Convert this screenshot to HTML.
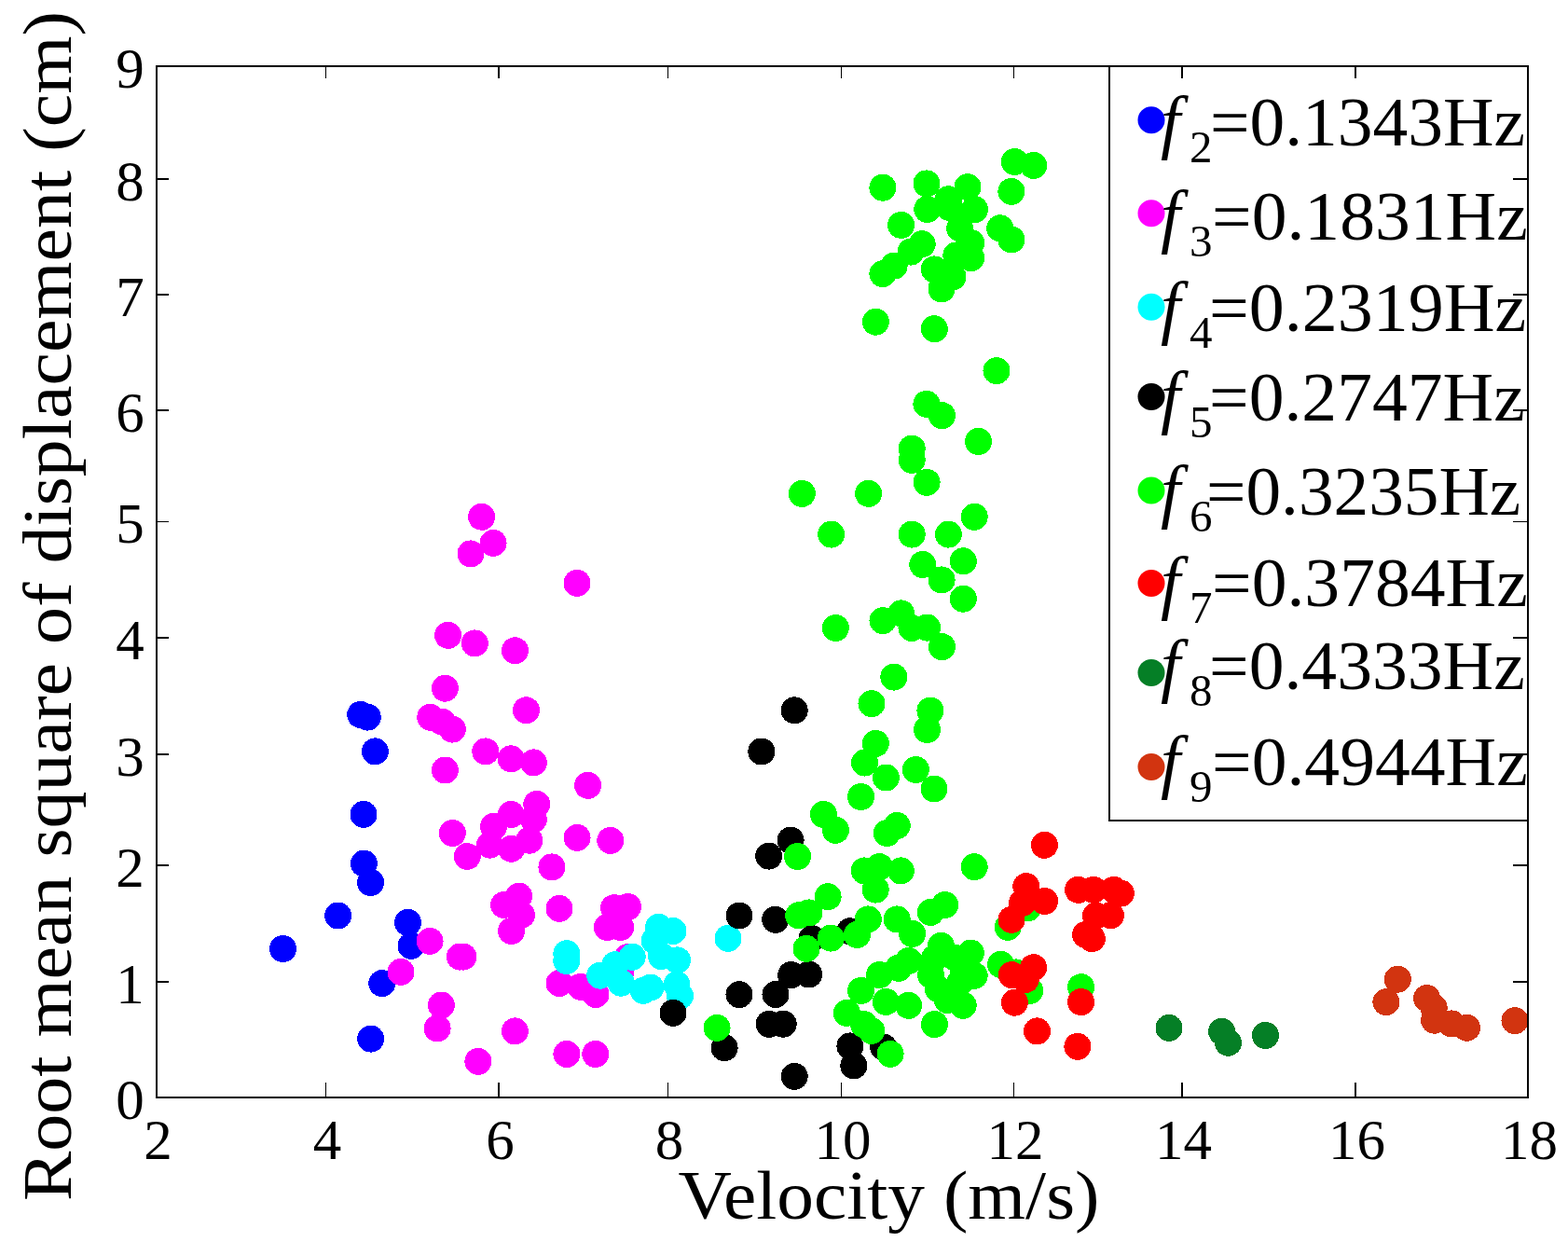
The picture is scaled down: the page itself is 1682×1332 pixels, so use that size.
<!DOCTYPE html><html><head><meta charset="utf-8"><title>Scatter plot</title><style>html,body{margin:0;padding:0;background:#fff;}svg{display:block;}</style></head><body>
<svg width="1682" height="1332" viewBox="0 0 1682 1332">
<rect width="1682" height="1332" fill="#fff"/>
<g fill="#0000ff" shape-rendering="crispEdges">
<circle cx="437.5" cy="989.3" r="14.5"/>
<circle cx="441.0" cy="1014.4" r="14.5"/>
<circle cx="409.8" cy="1054.6" r="14.5"/>
<circle cx="397.7" cy="1114.1" r="14.5"/>
<circle cx="386.7" cy="766.4" r="14.5"/>
<circle cx="394.3" cy="769.1" r="14.5"/>
<circle cx="402.4" cy="805.9" r="14.5"/>
<circle cx="390.0" cy="873.4" r="14.5"/>
<circle cx="390.4" cy="926.1" r="14.5"/>
<circle cx="397.6" cy="946.5" r="14.5"/>
<circle cx="362.6" cy="982.0" r="14.5"/>
<circle cx="303.5" cy="1017.5" r="14.5"/>
</g>
<g fill="#ff00ff" shape-rendering="crispEdges">
<circle cx="600.0" cy="974.4" r="14.5"/>
<circle cx="658.6" cy="973.7" r="14.5"/>
<circle cx="673.4" cy="972.5" r="14.5"/>
<circle cx="651.2" cy="994.5" r="14.5"/>
<circle cx="665.7" cy="994.5" r="14.5"/>
<circle cx="600.1" cy="1054.5" r="14.5"/>
<circle cx="622.9" cy="1058.3" r="14.5"/>
<circle cx="639.0" cy="1066.5" r="14.5"/>
<circle cx="673.4" cy="1026.6" r="14.5"/>
<circle cx="665.5" cy="1043.2" r="14.5"/>
<circle cx="461.1" cy="1009.4" r="14.5"/>
<circle cx="493.4" cy="1026.1" r="14.5"/>
<circle cx="496.8" cy="1026.1" r="14.5"/>
<circle cx="430.0" cy="1042.4" r="14.5"/>
<circle cx="473.4" cy="1078.0" r="14.5"/>
<circle cx="469.1" cy="1102.9" r="14.5"/>
<circle cx="552.4" cy="1105.9" r="14.5"/>
<circle cx="512.9" cy="1138.4" r="14.5"/>
<circle cx="548.6" cy="998.4" r="14.5"/>
<circle cx="540.7" cy="970.5" r="14.5"/>
<circle cx="480.6" cy="681.3" r="14.5"/>
<circle cx="509.3" cy="689.9" r="14.5"/>
<circle cx="552.5" cy="697.8" r="14.5"/>
<circle cx="477.4" cy="738.2" r="14.5"/>
<circle cx="564.5" cy="761.8" r="14.5"/>
<circle cx="461.7" cy="769.3" r="14.5"/>
<circle cx="474.4" cy="774.2" r="14.5"/>
<circle cx="485.3" cy="782.1" r="14.5"/>
<circle cx="520.8" cy="805.9" r="14.5"/>
<circle cx="548.2" cy="813.8" r="14.5"/>
<circle cx="572.4" cy="817.9" r="14.5"/>
<circle cx="477.4" cy="826.0" r="14.5"/>
<circle cx="630.6" cy="842.3" r="14.5"/>
<circle cx="575.8" cy="862.4" r="14.5"/>
<circle cx="548.2" cy="873.5" r="14.5"/>
<circle cx="572.3" cy="878.6" r="14.5"/>
<circle cx="529.5" cy="886.4" r="14.5"/>
<circle cx="485.3" cy="893.5" r="14.5"/>
<circle cx="525.5" cy="906.1" r="14.5"/>
<circle cx="548.5" cy="910.2" r="14.5"/>
<circle cx="567.8" cy="901.2" r="14.5"/>
<circle cx="501.2" cy="918.5" r="14.5"/>
<circle cx="619.1" cy="898.4" r="14.5"/>
<circle cx="654.8" cy="901.4" r="14.5"/>
<circle cx="591.9" cy="929.9" r="14.5"/>
<circle cx="556.7" cy="961.1" r="14.5"/>
<circle cx="516.6" cy="554.3" r="14.5"/>
<circle cx="529.1" cy="582.4" r="14.5"/>
<circle cx="505.0" cy="593.9" r="14.5"/>
<circle cx="619.0" cy="625.3" r="14.5"/>
<circle cx="607.9" cy="1130.5" r="14.5"/>
<circle cx="638.8" cy="1130.5" r="14.5"/>
<circle cx="559.5" cy="981.2" r="14.5"/>
</g>
<g fill="#00ffff" shape-rendering="crispEdges">
<circle cx="781.0" cy="1006.3" r="14.5"/>
<circle cx="706.5" cy="994.3" r="14.5"/>
<circle cx="722.0" cy="998.5" r="14.5"/>
<circle cx="726.5" cy="1029.8" r="14.5"/>
<circle cx="709.5" cy="1025.6" r="14.5"/>
<circle cx="726.0" cy="1056.1" r="14.5"/>
<circle cx="729.5" cy="1068.1" r="14.5"/>
<circle cx="697.8" cy="1059.1" r="14.5"/>
<circle cx="607.8" cy="1022.7" r="14.5"/>
<circle cx="607.8" cy="1030.5" r="14.5"/>
<circle cx="643.7" cy="1046.2" r="14.5"/>
<circle cx="659.8" cy="1034.7" r="14.5"/>
<circle cx="678.2" cy="1026.3" r="14.5"/>
<circle cx="666.3" cy="1054.2" r="14.5"/>
<circle cx="690.1" cy="1062.3" r="14.5"/>
<circle cx="702.2" cy="1008.8" r="14.5"/>
</g>
<g fill="#000000" shape-rendering="crispEdges">
<circle cx="871.0" cy="1006.6" r="14.5"/>
<circle cx="911.6" cy="998.8" r="14.5"/>
<circle cx="867.7" cy="1045.0" r="14.5"/>
<circle cx="911.9" cy="1121.9" r="14.5"/>
<circle cx="915.8" cy="1142.9" r="14.5"/>
<circle cx="947.6" cy="1122.9" r="14.5"/>
<circle cx="852.2" cy="761.8" r="14.5"/>
<circle cx="816.8" cy="806.0" r="14.5"/>
<circle cx="848.1" cy="901.2" r="14.5"/>
<circle cx="824.7" cy="918.1" r="14.5"/>
<circle cx="793.0" cy="982.0" r="14.5"/>
<circle cx="831.7" cy="986.3" r="14.5"/>
<circle cx="848.7" cy="1045.6" r="14.5"/>
<circle cx="793.0" cy="1066.6" r="14.5"/>
<circle cx="832.0" cy="1066.5" r="14.5"/>
<circle cx="825.1" cy="1098.3" r="14.5"/>
<circle cx="840.2" cy="1098.2" r="14.5"/>
<circle cx="722.0" cy="1086.3" r="14.5"/>
<circle cx="777.1" cy="1123.7" r="14.5"/>
<circle cx="852.2" cy="1154.4" r="14.5"/>
</g>
<g fill="#00ff00" shape-rendering="crispEdges">
<circle cx="946.9" cy="201.2" r="14.5"/>
<circle cx="994.0" cy="196.9" r="14.5"/>
<circle cx="1038.0" cy="200.7" r="14.5"/>
<circle cx="1088.3" cy="173.5" r="14.5"/>
<circle cx="1108.7" cy="177.4" r="14.5"/>
<circle cx="1084.9" cy="205.4" r="14.5"/>
<circle cx="1017.3" cy="213.8" r="14.5"/>
<circle cx="994.8" cy="224.5" r="14.5"/>
<circle cx="1045.5" cy="224.7" r="14.5"/>
<circle cx="966.6" cy="241.4" r="14.5"/>
<circle cx="1072.7" cy="244.8" r="14.5"/>
<circle cx="1084.9" cy="257.0" r="14.5"/>
<circle cx="1029.5" cy="244.8" r="14.5"/>
<circle cx="989.2" cy="261.7" r="14.5"/>
<circle cx="977.0" cy="270.1" r="14.5"/>
<circle cx="959.1" cy="285.1" r="14.5"/>
<circle cx="946.9" cy="293.6" r="14.5"/>
<circle cx="1041.7" cy="260.7" r="14.5"/>
<circle cx="1041.7" cy="276.7" r="14.5"/>
<circle cx="1025.8" cy="273.9" r="14.5"/>
<circle cx="1002.3" cy="288.9" r="14.5"/>
<circle cx="1022.0" cy="296.8" r="14.5"/>
<circle cx="1010.0" cy="309.9" r="14.5"/>
<circle cx="939.4" cy="345.2" r="14.5"/>
<circle cx="1002.3" cy="352.7" r="14.5"/>
<circle cx="1069.0" cy="397.6" r="14.5"/>
<circle cx="993.9" cy="433.3" r="14.5"/>
<circle cx="1010.4" cy="445.6" r="14.5"/>
<circle cx="1049.5" cy="473.4" r="14.5"/>
<circle cx="978.2" cy="481.1" r="14.5"/>
<circle cx="978.2" cy="493.3" r="14.5"/>
<circle cx="994.1" cy="517.3" r="14.5"/>
<circle cx="931.6" cy="529.3" r="14.5"/>
<circle cx="1045.2" cy="554.3" r="14.5"/>
<circle cx="891.6" cy="573.1" r="14.5"/>
<circle cx="978.2" cy="573.1" r="14.5"/>
<circle cx="1017.4" cy="573.1" r="14.5"/>
<circle cx="1033.3" cy="601.8" r="14.5"/>
<circle cx="989.8" cy="605.5" r="14.5"/>
<circle cx="1010.1" cy="621.9" r="14.5"/>
<circle cx="1033.3" cy="642.2" r="14.5"/>
<circle cx="896.3" cy="673.5" r="14.5"/>
<circle cx="947.0" cy="665.6" r="14.5"/>
<circle cx="966.7" cy="657.9" r="14.5"/>
<circle cx="978.0" cy="673.5" r="14.5"/>
<circle cx="994.5" cy="673.1" r="14.5"/>
<circle cx="1010.4" cy="693.6" r="14.5"/>
<circle cx="958.8" cy="726.1" r="14.5"/>
<circle cx="935.0" cy="754.6" r="14.5"/>
<circle cx="997.9" cy="762.1" r="14.5"/>
<circle cx="994.5" cy="782.4" r="14.5"/>
<circle cx="939.3" cy="797.4" r="14.5"/>
<circle cx="927.5" cy="818.0" r="14.5"/>
<circle cx="950.4" cy="834.0" r="14.5"/>
<circle cx="982.3" cy="825.5" r="14.5"/>
<circle cx="1002.0" cy="846.0" r="14.5"/>
<circle cx="923.6" cy="854.5" r="14.5"/>
<circle cx="883.4" cy="873.4" r="14.5"/>
<circle cx="896.4" cy="890.3" r="14.5"/>
<circle cx="962.2" cy="885.5" r="14.5"/>
<circle cx="951.4" cy="893.5" r="14.5"/>
<circle cx="855.6" cy="918.5" r="14.5"/>
<circle cx="1045.2" cy="929.7" r="14.5"/>
<circle cx="927.3" cy="933.9" r="14.5"/>
<circle cx="943.3" cy="929.6" r="14.5"/>
<circle cx="966.4" cy="933.9" r="14.5"/>
<circle cx="939.2" cy="954.1" r="14.5"/>
<circle cx="888.1" cy="961.7" r="14.5"/>
<circle cx="867.8" cy="978.9" r="14.5"/>
<circle cx="1013.7" cy="970.5" r="14.5"/>
<circle cx="998.3" cy="978.4" r="14.5"/>
<circle cx="931.3" cy="985.9" r="14.5"/>
<circle cx="962.2" cy="985.9" r="14.5"/>
<circle cx="978.6" cy="1001.4" r="14.5"/>
<circle cx="919.4" cy="1002.4" r="14.5"/>
<circle cx="891.3" cy="1006.1" r="14.5"/>
<circle cx="865.0" cy="1017.4" r="14.5"/>
<circle cx="1009.5" cy="1014.2" r="14.5"/>
<circle cx="1041.4" cy="1022.1" r="14.5"/>
<circle cx="1081.2" cy="994.3" r="14.5"/>
<circle cx="943.4" cy="1045.6" r="14.5"/>
<circle cx="923.6" cy="1062.4" r="14.5"/>
<circle cx="950.3" cy="1074.4" r="14.5"/>
<circle cx="974.6" cy="1078.3" r="14.5"/>
<circle cx="908.3" cy="1086.3" r="14.5"/>
<circle cx="926.6" cy="1098.6" r="14.5"/>
<circle cx="934.8" cy="1105.4" r="14.5"/>
<circle cx="955.1" cy="1130.3" r="14.5"/>
<circle cx="1002.4" cy="1098.6" r="14.5"/>
<circle cx="1033.2" cy="1078.3" r="14.5"/>
<circle cx="1002.6" cy="1027.6" r="14.5"/>
<circle cx="998.6" cy="1045.6" r="14.5"/>
<circle cx="1045.2" cy="1046.4" r="14.5"/>
<circle cx="1006.5" cy="1060.8" r="14.5"/>
<circle cx="1016.3" cy="1072.6" r="14.5"/>
<circle cx="1029.8" cy="1053.5" r="14.5"/>
<circle cx="1073.5" cy="1034.3" r="14.5"/>
<circle cx="1102.6" cy="973.8" r="14.5"/>
<circle cx="1089.8" cy="1042.9" r="14.5"/>
<circle cx="1104.8" cy="1062.4" r="14.5"/>
<circle cx="1159.6" cy="1058.7" r="14.5"/>
<circle cx="769.1" cy="1102.4" r="14.5"/>
<circle cx="856.7" cy="981.8" r="14.5"/>
<circle cx="860.3" cy="529.4" r="14.5"/>
<circle cx="963.8" cy="1038.3" r="14.5"/>
<circle cx="974.8" cy="1030.4" r="14.5"/>
<circle cx="1018.8" cy="222.6" r="14.5"/>
<circle cx="1024.8" cy="1027.3" r="14.5"/>
<circle cx="1033.0" cy="1046.0" r="14.5"/>
</g>
<g fill="#ff0000" shape-rendering="crispEdges">
<circle cx="1120.4" cy="906.3" r="14.5"/>
<circle cx="1100.8" cy="950.6" r="14.5"/>
<circle cx="1120.6" cy="966.5" r="14.5"/>
<circle cx="1096.5" cy="968.6" r="14.5"/>
<circle cx="1085.0" cy="986.3" r="14.5"/>
<circle cx="1156.6" cy="954.3" r="14.5"/>
<circle cx="1173.1" cy="954.3" r="14.5"/>
<circle cx="1194.9" cy="954.3" r="14.5"/>
<circle cx="1202.4" cy="958.1" r="14.5"/>
<circle cx="1191.4" cy="981.7" r="14.5"/>
<circle cx="1175.5" cy="982.1" r="14.5"/>
<circle cx="1164.6" cy="1002.4" r="14.5"/>
<circle cx="1171.3" cy="1006.6" r="14.5"/>
<circle cx="1108.6" cy="1037.7" r="14.5"/>
<circle cx="1085.3" cy="1045.6" r="14.5"/>
<circle cx="1100.3" cy="1050.4" r="14.5"/>
<circle cx="1088.4" cy="1075.2" r="14.5"/>
<circle cx="1159.6" cy="1074.6" r="14.5"/>
<circle cx="1112.5" cy="1105.9" r="14.5"/>
<circle cx="1155.9" cy="1122.3" r="14.5"/>
</g>
<g fill="#057f26" shape-rendering="crispEdges">
<circle cx="1254.0" cy="1102.4" r="14.5"/>
<circle cx="1310.6" cy="1106.3" r="14.5"/>
<circle cx="1317.5" cy="1118.2" r="14.5"/>
<circle cx="1357.4" cy="1110.4" r="14.5"/>
</g>
<g fill="#d23410" shape-rendering="crispEdges">
<circle cx="1499.3" cy="1050.2" r="14.5"/>
<circle cx="1486.9" cy="1074.6" r="14.5"/>
<circle cx="1530.6" cy="1070.6" r="14.5"/>
<circle cx="1538.2" cy="1081.0" r="14.5"/>
<circle cx="1538.6" cy="1094.2" r="14.5"/>
<circle cx="1557.1" cy="1097.9" r="14.5"/>
<circle cx="1573.5" cy="1102.2" r="14.5"/>
<circle cx="1625.0" cy="1094.6" r="14.5"/>
</g>
<g stroke="#000" fill="none">
<rect x="168" y="71" width="1471" height="1106" stroke-width="2"/>
<line x1="349.5" y1="1176" x2="349.5" y2="1161" stroke-width="1"/>
<line x1="349.5" y1="72" x2="349.5" y2="84" stroke-width="1"/>
<line x1="535" y1="1176" x2="535" y2="1161" stroke-width="2"/>
<line x1="535" y1="72" x2="535" y2="84" stroke-width="2"/>
<line x1="716.5" y1="1176" x2="716.5" y2="1161" stroke-width="1"/>
<line x1="716.5" y1="72" x2="716.5" y2="84" stroke-width="1"/>
<line x1="902.5" y1="1176" x2="902.5" y2="1161" stroke-width="1"/>
<line x1="902.5" y1="72" x2="902.5" y2="84" stroke-width="1"/>
<line x1="1087.5" y1="1176" x2="1087.5" y2="1161" stroke-width="1"/>
<line x1="1087.5" y1="72" x2="1087.5" y2="84" stroke-width="1"/>
<line x1="1268" y1="1176" x2="1268" y2="1161" stroke-width="2"/>
<line x1="1268" y1="72" x2="1268" y2="84" stroke-width="2"/>
<line x1="1454" y1="1176" x2="1454" y2="1161" stroke-width="2"/>
<line x1="1454" y1="72" x2="1454" y2="84" stroke-width="2"/>
<line x1="169" y1="192" x2="181" y2="192" stroke-width="2"/>
<line x1="1638" y1="192" x2="1623" y2="192" stroke-width="2"/>
<line x1="169" y1="316" x2="181" y2="316" stroke-width="2"/>
<line x1="1638" y1="316" x2="1623" y2="316" stroke-width="2"/>
<line x1="169" y1="440" x2="181" y2="440" stroke-width="2"/>
<line x1="1638" y1="440" x2="1623" y2="440" stroke-width="2"/>
<line x1="169" y1="559.5" x2="181" y2="559.5" stroke-width="1"/>
<line x1="1638" y1="559.5" x2="1623" y2="559.5" stroke-width="1"/>
<line x1="169" y1="684" x2="181" y2="684" stroke-width="2"/>
<line x1="1638" y1="684" x2="1623" y2="684" stroke-width="2"/>
<line x1="169" y1="809" x2="181" y2="809" stroke-width="2"/>
<line x1="1638" y1="809" x2="1623" y2="809" stroke-width="2"/>
<line x1="169" y1="928" x2="181" y2="928" stroke-width="2"/>
<line x1="1638" y1="928" x2="1623" y2="928" stroke-width="2"/>
<line x1="169" y1="1053" x2="181" y2="1053" stroke-width="2"/>
<line x1="1638" y1="1053" x2="1623" y2="1053" stroke-width="2"/>
<rect x="1190" y="71" width="449" height="809" stroke-width="2"/>
</g>
<g font-family="'Liberation Serif', 'DejaVu Serif', serif" font-size="61" fill="#000" text-anchor="middle">
<text id="xl2" x="169.5" y="1243">2</text>
<text id="xl4" x="351.0" y="1243">4</text>
<text id="xl6" x="536.5" y="1243">6</text>
<text id="xl8" x="718.0" y="1243">8</text>
<text id="xl10" x="904.0" y="1243">10</text>
<text id="xl12" x="1089.0" y="1243">12</text>
<text id="xl14" x="1269.5" y="1243">14</text>
<text id="xl16" x="1455.5" y="1243">16</text>
<text id="xl18" x="1640.5" y="1243">18</text>
<text id="yl0" x="139.5" y="1199.5">0</text>
<text id="yl1" x="139.5" y="1075.5">1</text>
<text id="yl2" x="139.5" y="950.5">2</text>
<text id="yl3" x="139.5" y="831.5">3</text>
<text id="yl4" x="139.5" y="706.5">4</text>
<text id="yl5" x="139.5" y="582.0">5</text>
<text id="yl6" x="139.5" y="462.5">6</text>
<text id="yl7" x="139.5" y="338.5">7</text>
<text id="yl8" x="139.5" y="214.5">8</text>
<text id="yl9" x="139.5" y="93.5">9</text>
</g>
<text id="xlabel" font-family="'Liberation Serif', 'DejaVu Serif', serif" font-size="75" x="727.5" y="1307" textLength="452" lengthAdjust="spacingAndGlyphs">Velocity (m/s)</text>
<text id="ylabel" font-family="'Liberation Serif', 'DejaVu Serif', serif" font-size="75" transform="translate(76,1288) rotate(-90)" x="0" y="0" textLength="1276" lengthAdjust="spacingAndGlyphs">Root mean square of displacement (cm)</text>
<circle cx="1235" cy="128.7" r="14.5" fill="#0000ff"/>
<text id="lf0" font-family="'Liberation Serif', 'DejaVu Serif', serif" font-size="76" font-style="italic" x="1245" y="155.5">f</text>
<text id="ls0" font-family="'Liberation Serif', 'DejaVu Serif', serif" font-size="49" x="1276" y="173.5">2</text>
<text id="lt0" font-family="'Liberation Serif', 'DejaVu Serif', serif" font-size="73" x="1297.9" y="155.5" textLength="338.0" lengthAdjust="spacingAndGlyphs">=0.1343Hz</text>
<circle cx="1235" cy="228.7" r="14.5" fill="#ff00ff"/>
<text id="lf1" font-family="'Liberation Serif', 'DejaVu Serif', serif" font-size="76" font-style="italic" x="1245" y="257">f</text>
<text id="ls1" font-family="'Liberation Serif', 'DejaVu Serif', serif" font-size="49" x="1276" y="275">3</text>
<text id="lt1" font-family="'Liberation Serif', 'DejaVu Serif', serif" font-size="73" x="1300" y="257" textLength="338.7" lengthAdjust="spacingAndGlyphs">=0.1831Hz</text>
<circle cx="1235" cy="329.3" r="14.5" fill="#00ffff"/>
<text id="lf2" font-family="'Liberation Serif', 'DejaVu Serif', serif" font-size="76" font-style="italic" x="1245" y="355.2">f</text>
<text id="ls2" font-family="'Liberation Serif', 'DejaVu Serif', serif" font-size="49" x="1276" y="373.2">4</text>
<text id="lt2" font-family="'Liberation Serif', 'DejaVu Serif', serif" font-size="73" x="1297" y="355.2" textLength="340.2" lengthAdjust="spacingAndGlyphs">=0.2319Hz</text>
<circle cx="1235" cy="425.4" r="14.5" fill="#000000"/>
<text id="lf3" font-family="'Liberation Serif', 'DejaVu Serif', serif" font-size="76" font-style="italic" x="1245" y="450.8">f</text>
<text id="ls3" font-family="'Liberation Serif', 'DejaVu Serif', serif" font-size="49" x="1276" y="468.8">5</text>
<text id="lt3" font-family="'Liberation Serif', 'DejaVu Serif', serif" font-size="73" x="1297" y="450.8" textLength="338.7" lengthAdjust="spacingAndGlyphs">=0.2747Hz</text>
<circle cx="1235" cy="526" r="14.5" fill="#00ff00"/>
<text id="lf4" font-family="'Liberation Serif', 'DejaVu Serif', serif" font-size="76" font-style="italic" x="1245" y="552.2">f</text>
<text id="ls4" font-family="'Liberation Serif', 'DejaVu Serif', serif" font-size="49" x="1276" y="570.2">6</text>
<text id="lt4" font-family="'Liberation Serif', 'DejaVu Serif', serif" font-size="73" x="1294" y="552.2" textLength="337.3" lengthAdjust="spacingAndGlyphs">=0.3235Hz</text>
<circle cx="1235" cy="625.4" r="14.5" fill="#ff0000"/>
<text id="lf5" font-family="'Liberation Serif', 'DejaVu Serif', serif" font-size="76" font-style="italic" x="1245" y="649.9">f</text>
<text id="ls5" font-family="'Liberation Serif', 'DejaVu Serif', serif" font-size="49" x="1276" y="667.9">7</text>
<text id="lt5" font-family="'Liberation Serif', 'DejaVu Serif', serif" font-size="73" x="1300" y="649.9" textLength="338.7" lengthAdjust="spacingAndGlyphs">=0.3784Hz</text>
<circle cx="1235" cy="721.5" r="14.5" fill="#057f26"/>
<text id="lf6" font-family="'Liberation Serif', 'DejaVu Serif', serif" font-size="76" font-style="italic" x="1245" y="739.3">f</text>
<text id="ls6" font-family="'Liberation Serif', 'DejaVu Serif', serif" font-size="49" x="1276" y="757.3">8</text>
<text id="lt6" font-family="'Liberation Serif', 'DejaVu Serif', serif" font-size="73" x="1297" y="739.3" textLength="338.7" lengthAdjust="spacingAndGlyphs">=0.4333Hz</text>
<circle cx="1235" cy="822.4" r="14.5" fill="#d23410"/>
<text id="lf7" font-family="'Liberation Serif', 'DejaVu Serif', serif" font-size="76" font-style="italic" x="1245" y="842.3">f</text>
<text id="ls7" font-family="'Liberation Serif', 'DejaVu Serif', serif" font-size="49" x="1276" y="860.3">9</text>
<text id="lt7" font-family="'Liberation Serif', 'DejaVu Serif', serif" font-size="73" x="1300" y="842.3" textLength="338.7" lengthAdjust="spacingAndGlyphs">=0.4944Hz</text>
</svg></body></html>
